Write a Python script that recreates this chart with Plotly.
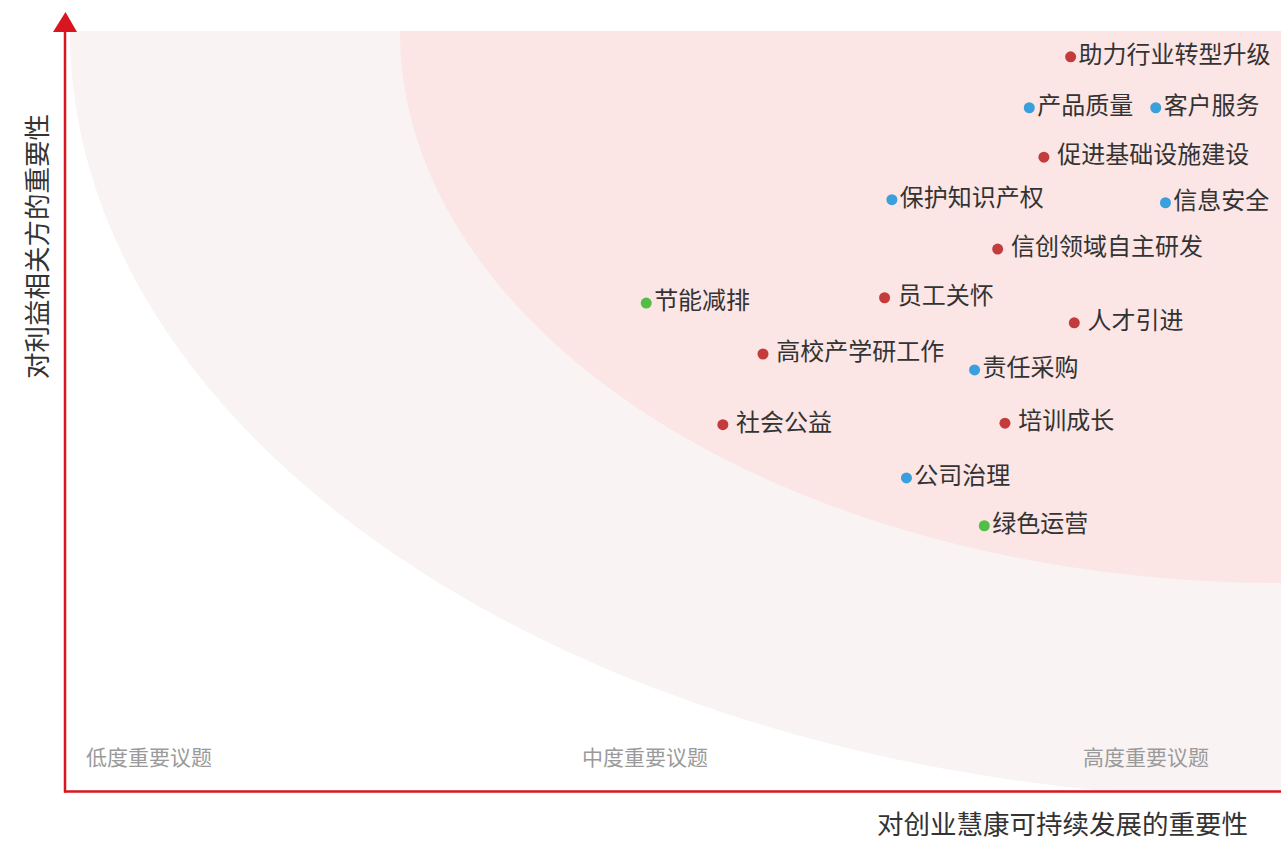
import numpy as np
import plotly.graph_objects as go

# ---- data ----
topics = [
    "助力行业转型升级", "产品质量", "客户服务", " 促进基础设施建设", "保护知识产权",
    "信息安全", " 信创领域自主研发", "节能减排", " 员工关怀", " 人才引进",
    " 高校产学研工作", "责任采购", " 社会公益", " 培训成长", "公司治理", "绿色运营",
]
x_importance = [82.7, 79.3, 89.7, 80.5, 68.0, 90.5, 76.7, 47.8, 67.4, 83.0, 57.4, 74.8, 54.1, 77.3, 69.2, 75.6]
y_importance = [96.6, 89.9, 89.9, 83.4, 77.8, 77.4, 71.3, 64.2, 64.9, 61.6, 57.5, 55.4, 48.2, 48.4, 41.2, 34.9]
groups = ["经济", "治理", "治理", "经济", "治理", "治理", "经济", "环境",
          "社会", "社会", "经济", "治理", "社会", "社会", "治理", "环境"]
group_colors = {"经济": "#c43b3b", "社会": "#c43b3b", "治理": "#3a9fdd", "环境": "#52be45"}

zone_labels = ["低度重要议题", "中度重要议题", "高度重要议题"]
x_title = "对创业慧康可持续发展的重要性"
y_title = "对利益相关方的重要性"

FONT = "Noto Sans CJK SC, Noto Sans, sans-serif"
W, H = 1281, 843
L, R, T, B = 65, 0, 31, 52
pw, ph = W - L - R, H - T - B


def ellipse_path(a, b, cx=100.0, cy=100.0, n=200):
    t = np.linspace(np.pi, 1.5 * np.pi, n)
    xs = cx + a * np.cos(t)
    ys = np.maximum(cy + b * np.sin(t), 0.0)
    pts = [f"{x:.3f},{y:.3f}" for x, y in zip(xs, ys)]
    return "M " + " L ".join(pts) + f" L {cx},{max(cy - b, 0)} L {cx},{cy} Z"


fig = go.Figure()

for g in ["经济", "社会", "治理", "环境"]:
    idx = [i for i, gg in enumerate(groups) if gg == g]
    fig.add_trace(go.Scatter(
        x=[x_importance[i] for i in idx],
        y=[y_importance[i] for i in idx],
        text=[topics[i] for i in idx],
        mode="markers+text",
        textposition="middle right",
        marker=dict(size=11, color=group_colors[g]),
        textfont=dict(family=FONT, size=24, color="#333333"),
        name=g,
        hoverinfo="text",
        cliponaxis=False,
    ))

shapes = [
    dict(type="path", xref="x", yref="y", layer="below",
         path=ellipse_path(1211 / pw * 100, 768 / ph * 100),
         fillcolor="#f9f3f3", line=dict(width=0)),
    dict(type="path", xref="x", yref="y", layer="below",
         path=ellipse_path(881 / pw * 100, 552 / ph * 100),
         fillcolor="#fbe5e5", line=dict(width=0)),
    # x axis line
    dict(type="line", xref="paper", yref="paper", x0=-1 / pw, x1=1, y0=-0.5 / ph, y1=-0.5 / ph,
         line=dict(color="#d9161f", width=2.5)),
    # y axis line
    dict(type="line", xref="paper", yref="paper", x0=0, x1=0, y0=-1.5 / ph, y1=1 + 2 / ph,
         line=dict(color="#d9161f", width=2.5)),
    # arrow head
    dict(type="path", xref="paper", yref="paper",
         path=f"M {-12 / pw},{1 - 1 / ph} L {12 / pw},{1 - 1 / ph} L {0.5 / pw},{1 + 19 / ph} Z",
         fillcolor="#d9161f", line=dict(width=0)),
]

annotations = [
    dict(x=1.6, y=4.6, xref="x", yref="y", text=zone_labels[0], showarrow=False,
         xanchor="left", yanchor="middle", font=dict(family=FONT, size=21, color="#9a9a9a")),
    dict(x=47.7, y=4.6, xref="x", yref="y", text=zone_labels[1], showarrow=False,
         xanchor="center", yanchor="middle", font=dict(family=FONT, size=21, color="#9a9a9a")),
    dict(x=88.9, y=4.6, xref="x", yref="y", text=zone_labels[2], showarrow=False,
         xanchor="center", yanchor="middle", font=dict(family=FONT, size=21, color="#9a9a9a")),
    dict(x=(1249 - L) / pw, y=(H - B - 822) / ph, xref="paper", yref="paper", text=x_title,
         showarrow=False, xanchor="right", yanchor="middle", borderpad=0,
         font=dict(family=FONT, size=26.5, color="#333333")),
    dict(x=(35 - L) / pw, y=(H - B - 247) / ph, xref="paper", yref="paper", text=y_title,
         showarrow=False, textangle=-90, xanchor="center", yanchor="middle",
         font=dict(family=FONT, size=26.5, color="#333333")),
]

fig.update_layout(
    width=W, height=H,
    margin=dict(l=L, r=R, t=T, b=B),
    paper_bgcolor="white", plot_bgcolor="white",
    showlegend=False,
    xaxis=dict(range=[0, 100], visible=False, fixedrange=True),
    yaxis=dict(range=[0, 100], visible=False, fixedrange=True),
    shapes=shapes,
    annotations=annotations,
    font=dict(family=FONT),
)

fig.write_html("out.html", config={"displayModeBar": False},
               post_script="document.body.style.margin='0';document.body.style.overflow='hidden';")
